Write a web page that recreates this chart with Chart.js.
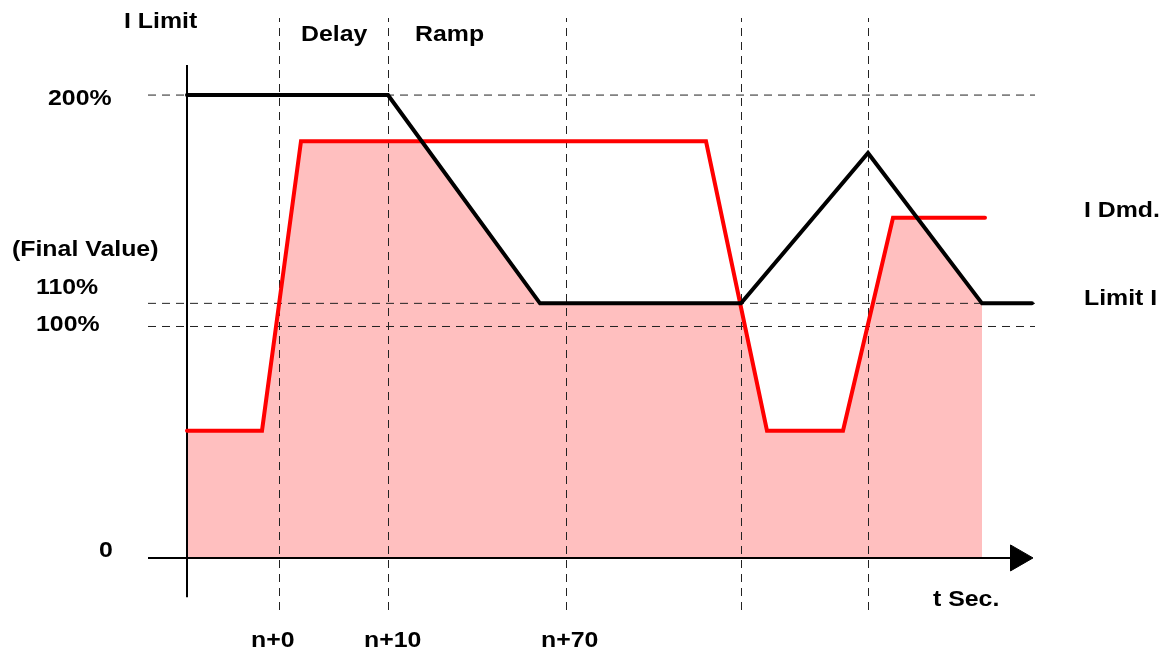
<!DOCTYPE html>
<html>
<head>
<meta charset="utf-8">
<title>I Limit</title>
<script src="https://cdn.jsdelivr.net/npm/chart.js@4/dist/chart.umd.min.js"></script>
<style>
  html, body { margin: 0; padding: 0; background: #fff; }
</style>
</head>
<body>
<canvas id="limitChart" width="1162" height="652"></canvas>
<script>
/* time axis is in schematic units, current in % of rated */

// vertical guides (n+0, n+10, n+70 and the two later events)
const xMarks = [92.5, 201.5, 379.5, 554.5, 681.5];
const xTickLabels = ['n+0', 'n+10', 'n+70'];
// horizontal guides
const yLevels = [200, 110, 100];

// current limit (black)
const limitT = [0, 201, 353, 554, 681, 795, 845];
const limitI = [200, 200, 110, 110, 175, 110, 110];

// current demand (red)
const demandT = [0, 75, 114, 519, 580, 656, 706, 798];
const demandI = [55, 55, 180, 180, 55, 55, 147, 147];

// delivered current = lower of the two (shaded)
const actualT = [0, 75, 114, 235, 353, 553, 580, 656, 706, 730, 795];
const actualI = [55, 55, 180, 180, 110, 110, 55, 55, 147, 147, 110];

// text labels, placed in axis units (left edge, baseline)
const labels = [
  { text: 'I Limit', x: -63, y: 229 },
  { text: 'Delay', x: 114, y: 223.3 },
  { text: 'Ramp', x: 228, y: 223.3 },
  { text: '200%', x: -139, y: 195.7 },
  { text: '(Final Value)', x: -175, y: 130.5 },
  { text: '110%', x: -151, y: 114 },
  { text: '100%', x: -151, y: 98.1 },
  { text: '0', x: -88, y: 0.4 },
  { text: 'I Dmd.', x: 897, y: 147.3 },
  { text: 'Limit I', x: 897, y: 109.3 },
  { text: 't Sec.', x: 746, y: -20.7 },
  { text: xTickLabels[0], x: 64, y: -38.4 },
  { text: xTickLabels[1], x: 177, y: -38.4 },
  { text: xTickLabels[2], x: 354, y: -38.4 }
];

const X_MIN = -39, X_MAX = 848;
const Y_MIN = -22.5, Y_MAX = 233.3;

function pts(xs, ys) {
  return xs.map((x, i) => ({ x: x, y: ys[i] }));
}

const guideStyle = {
  borderColor: '#222',
  borderWidth: 1,
  borderDash: [8, 6],
  pointRadius: 0,
  order: 5
};

const guides = [];
xMarks.forEach(x => {
  guides.push(Object.assign({ label: 'guide', data: [{ x: x, y: Y_MIN }, { x: x, y: Y_MAX }] }, guideStyle));
});
yLevels.forEach(y => {
  guides.push(Object.assign({ label: 'guide', data: [{ x: X_MIN, y: y }, { x: X_MAX, y: y }] }, guideStyle));
});

// draws all the annotation text, slightly widened like the original drawing
const textPlugin = {
  id: 'textLabels',
  afterDraw(chart) {
    const { ctx, scales } = chart;
    ctx.save();
    ctx.font = 'bold 22px "Liberation Sans", Arial, sans-serif';
    ctx.fillStyle = '#000';
    ctx.textAlign = 'left';
    ctx.textBaseline = 'alphabetic';
    labels.forEach(l => {
      ctx.save();
      ctx.translate(scales.x.getPixelForValue(l.x), scales.y.getPixelForValue(l.y));
      ctx.scale(1.13, 1);
      ctx.fillText(l.text, 0, 0);
      ctx.restore();
    });
    ctx.restore();
  }
};

new Chart(document.getElementById('limitChart'), {
  type: 'line',
  data: {
    datasets: [
      {
        label: 'I Out',
        data: pts(actualT, actualI),
        borderWidth: 0,
        pointRadius: 0,
        backgroundColor: '#ffbfbf',
        fill: 'origin',
        order: 10
      },
      ...guides,
      {
        label: 'y axis',
        data: [{ x: 0, y: 213 }, { x: 0, y: -17 }],
        borderColor: '#000',
        borderWidth: 2,
        pointRadius: 0,
        order: 3
      },
      {
        label: 'x axis',
        data: [{ x: X_MIN, y: 0 }, { x: 825, y: 0 }],
        borderColor: '#000',
        borderWidth: 2,
        pointRadius: 0,
        order: 3
      },
      {
        label: 'arrow',
        data: [{ x: 831, y: 0 }],
        showLine: false,
        pointStyle: 'triangle',
        rotation: 90,
        pointRadius: 15,
        backgroundColor: '#000',
        borderColor: '#000',
        borderWidth: 1,
        order: 3
      },
      {
        label: 'I Dmd.',
        data: pts(demandT, demandI),
        borderColor: '#ff0000',
        borderWidth: 4,
        borderCapStyle: 'round',
        borderJoinStyle: 'miter',
        pointRadius: 0,
        order: 2
      },
      {
        label: 'Limit I',
        data: pts(limitT, limitI),
        borderColor: '#000',
        borderWidth: 4,
        borderCapStyle: 'round',
        borderJoinStyle: 'miter',
        pointRadius: 0,
        order: 1
      }
    ]
  },
  options: {
    responsive: false,
    animation: false,
    layout: {
      padding: { left: 148, right: 127, top: 18, bottom: 42 }
    },
    plugins: {
      legend: { display: false },
      tooltip: { enabled: false }
    },
    scales: {
      x: { type: 'linear', min: X_MIN, max: X_MAX, display: false },
      y: { type: 'linear', min: Y_MIN, max: Y_MAX, display: false }
    }
  },
  plugins: [textPlugin]
});
</script>
</body>
</html>
